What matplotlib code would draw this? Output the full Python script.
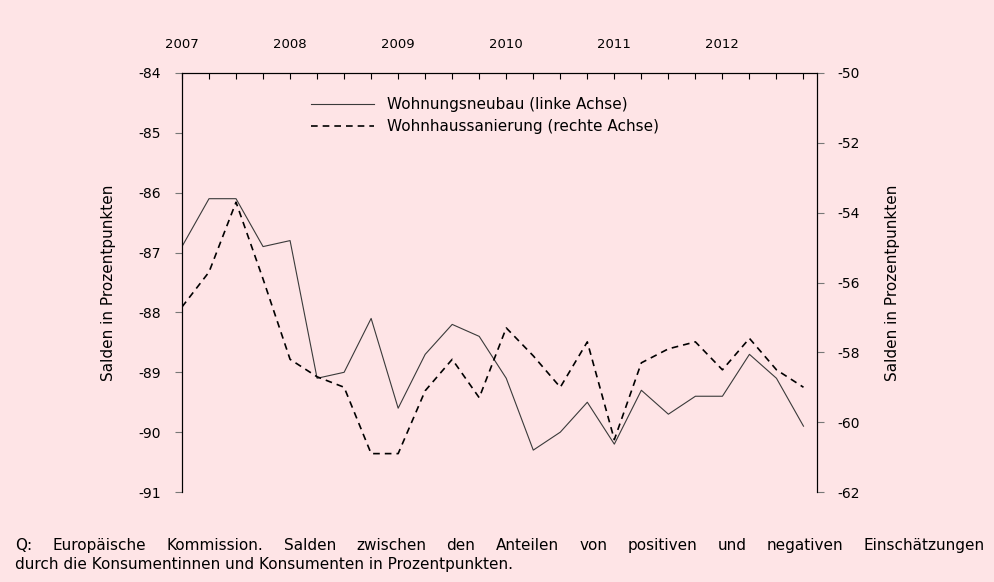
import matplotlib
matplotlib.use('Agg')
import matplotlib.pyplot as plt
import numpy as np

# quarterly balances 2007Q1 - 2012Q4
years = ['2007', '2008', '2009', '2010', '2011', '2012']
neubau = [-86.9, -86.1, -86.1, -86.9, -86.8, -89.1, -89.0, -88.1,
          -89.6, -88.7, -88.2, -88.4, -89.1, -90.3, -90.0, -89.5,
          -90.2, -89.3, -89.7, -89.4, -89.4, -88.7, -89.1, -89.9]
sanierung = [-56.7, -55.7, -53.7, -55.9, -58.2, -58.7, -59.0, -60.9,
             -60.9, -59.1, -58.2, -59.3, -57.3, -58.1, -59.0, -57.7,
             -60.5, -58.3, -57.9, -57.7, -58.5, -57.6, -58.5, -59.0]

caption1 = 'Q: Europäische Kommission. Salden zwischen den Anteilen von positiven und negativen Einschätzungen'
caption2 = 'durch die Konsumentinnen und Konsumenten in Prozentpunkten.'

bg = '#fee4e6'
plt.rcParams['font.family'] = 'DejaVu Sans'
plt.rcParams['font.size'] = 10
plt.rcParams['axes.unicode_minus'] = False

fig = plt.figure(figsize=(9.95, 5.82), dpi=100, facecolor=bg)
ax = fig.add_axes([0.1829, 0.1546, 0.6382, 0.72])
ax.set_facecolor(bg)
ax2 = ax.twinx()

x = np.arange(len(neubau))
l1, = ax.plot(x, neubau, color='#3a3a3a', lw=0.8, label='Wohnungsneubau (linke Achse)')
l2, = ax2.plot(x, sanierung, color='black', lw=1.2, ls=(0, (4, 3)),
               label='Wohnhaussanierung (rechte Achse)')

ax.set_xlim(0, len(neubau) - 0.5)
ax.set_ylim(-91, -84)
ax2.set_ylim(-62, -50)
ax.set_yticks(np.arange(-91, -83, 1))
ax2.set_yticks(np.arange(-62, -49, 2))

ax.spines['bottom'].set_visible(False)
ax2.spines['bottom'].set_visible(False)
ax.xaxis.tick_top()
ax.set_xticks(x)
labels = []
for i in x:
    labels.append(years[i // 4] if i % 4 == 0 else '')
ax.set_xticklabels(labels, fontsize=9.5)
ax.tick_params(axis='x', direction='in', length=4, pad=16, top=True, bottom=False)
ax.tick_params(axis='y', direction='out', length=5, pad=10, color='#777777')
ax2.tick_params(axis='y', direction='out', length=5, pad=10, color='#777777')

ax.set_ylabel('Salden in Prozentpunkten', labelpad=16, fontsize=11)
ax2.set_ylabel('Salden in Prozentpunkten', labelpad=18, fontsize=11)

leg = ax.legend(handles=[l1, l2], loc='upper left', bbox_to_anchor=(0.182, 0.975),
                frameon=False, fontsize=11, handlelength=4.1, handletextpad=0.85,
                labelspacing=0.45)

# caption, first line justified to the full width
left, right = 15, 985
y1 = 1 - 550 / 582
y2 = 1 - 569 / 582
fs = 11
renderer = fig.canvas.get_renderer()
words = caption1.split(' ')
widths = []
for w in words:
    t = fig.text(0, 0, w, fontsize=fs)
    widths.append(t.get_window_extent(renderer).width)
    t.remove()
gap = (right - left - sum(widths)) / (len(words) - 1)
pos = left
for w, wd in zip(words, widths):
    fig.text(pos / 995, y1, w, fontsize=fs, ha='left', va='baseline')
    pos += wd + gap
fig.text(left / 995, y2, caption2, fontsize=fs, ha='left', va='baseline')

fig.savefig('out.png', dpi=100, facecolor=bg)
